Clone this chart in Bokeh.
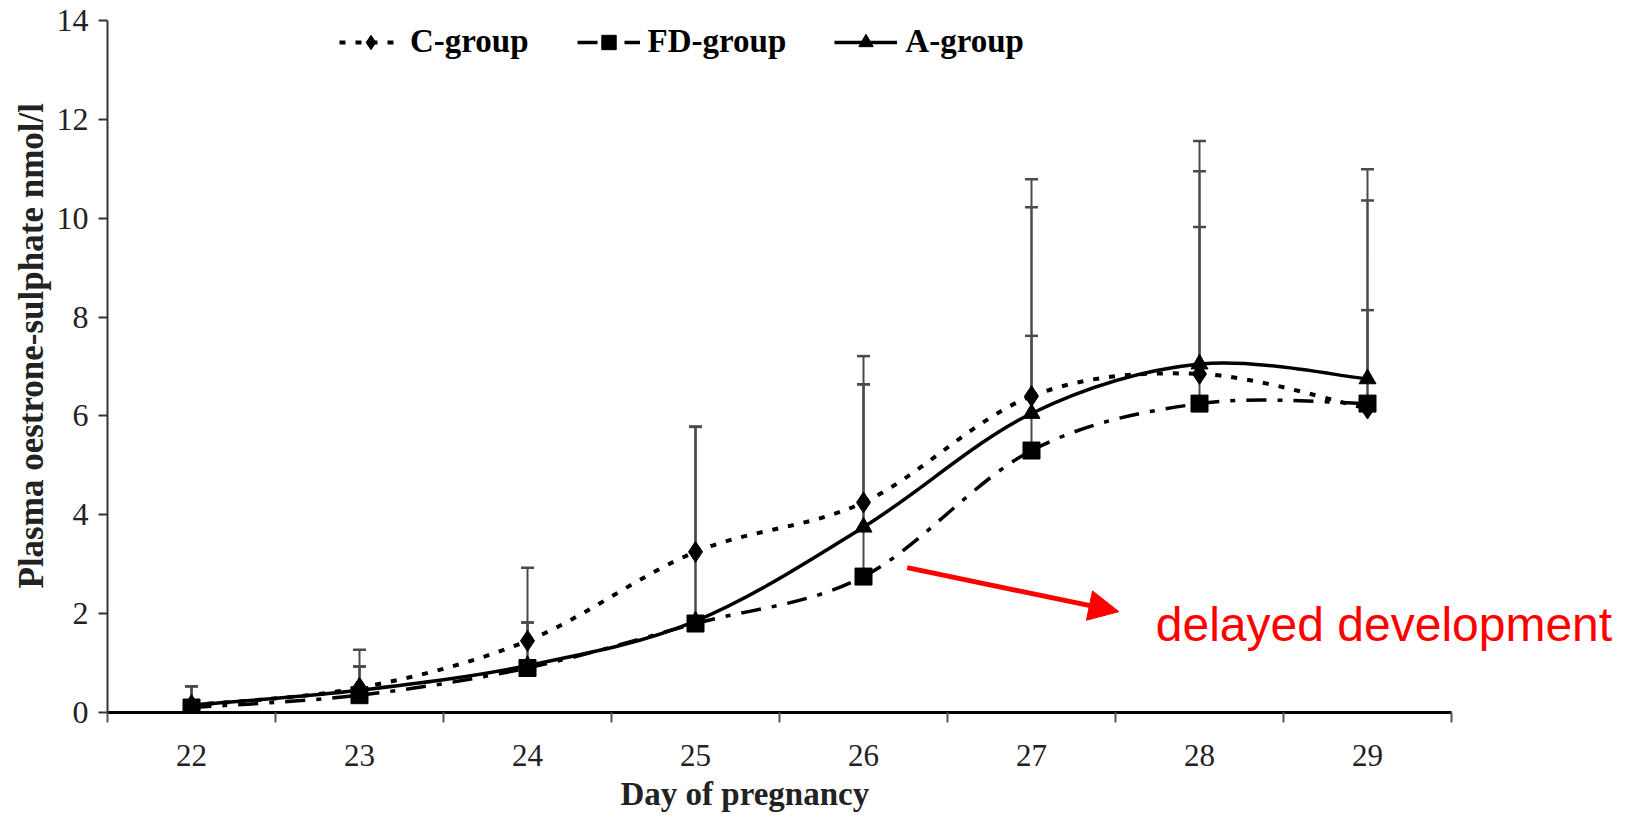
from bokeh.plotting import figure
from bokeh.models import (ColumnDataSource, FixedTicker, Whisker, TeeHead, Legend, LegendItem,
                          Arrow, NormalHead, Label, Range1d, Title)
from bokeh.embed import file_html
from bokeh.resources import INLINE

# ---- data ----
days = [22, 23, 24, 25, 26, 27, 28, 29]
c_group = [0.15, 0.50, 1.45, 3.25, 4.25, 6.40, 6.85, 6.15]
fd_group = [0.10, 0.35, 0.90, 1.80, 2.75, 5.30, 6.25, 6.25]
a_group = [0.15, 0.45, 0.95, 1.85, 3.75, 6.05, 7.05, 6.75]
# upper end of the error bars (mean + SD)
c_upper = [0.53, 1.27, 2.93, 5.78, 7.21, 10.79, 11.56, 10.99]
fd_upper = [0.53, 0.93, 1.82, 5.78, 6.64, 7.62, 9.82, 8.14]
a_upper = [0.53, 0.93, 1.82, 5.78, 6.64, 10.22, 10.95, 10.36]
y_ticks = [0, 2, 4, 6, 8, 10, 12, 14]

SERIF = "Liberation Serif"

# x range extends one day past the axis so the annotation text has room
p = figure(width=1627, height=817, output_backend="svg", toolbar_location=None,
           x_range=Range1d(21.5, 30.5), y_range=Range1d(0, 14),
           min_border_left=107, min_border_right=8, min_border_top=20, min_border_bottom=104)
p.outline_line_color = None
p.grid.grid_line_color = None
p.background_fill_color = "white"
p.border_fill_color = "white"


def bezier_source(xs, ys):
    n = len(xs)
    d = dict(x0=[], y0=[], x1=[], y1=[], cx0=[], cy0=[], cx1=[], cy1=[])
    for i in range(n - 1):
        i0 = max(i - 1, 0)
        i3 = min(i + 2, n - 1)
        d["x0"].append(xs[i]); d["y0"].append(ys[i])
        d["x1"].append(xs[i + 1]); d["y1"].append(ys[i + 1])
        d["cx0"].append(xs[i] + (xs[i + 1] - xs[i0]) / 6)
        d["cy0"].append(ys[i] + (ys[i + 1] - ys[i0]) / 6)
        d["cx1"].append(xs[i + 1] - (xs[i3] - xs[i]) / 6)
        d["cy1"].append(ys[i + 1] - (ys[i3] - ys[i]) / 6)
    return ColumnDataSource(d)


series = [
    ("C-group", c_group, c_upper, "6 10", 4, "diamond", 21),
    ("FD-group", fd_group, fd_upper, "20 11 5 11", 3.5, "square", 17),
    ("A-group", a_group, a_upper, "solid", 3.5, "triangle", 17),
]

items = []
for name, vals, upper, dash, lw, marker, size in series:
    wsrc = ColumnDataSource(dict(x=days, lower=vals, upper=upper))
    w = Whisker(source=wsrc, base="x", lower="lower", upper="upper",
                line_color="#4a4a4a", line_width=2,
                upper_head=TeeHead(size=13, line_color="#4a4a4a", line_width=2.5),
                lower_head=None, level="underlay")
    p.add_layout(w)
    lr = p.bezier(x0="x0", y0="y0", x1="x1", y1="y1", cx0="cx0", cy0="cy0", cx1="cx1", cy1="cy1",
                  source=bezier_source(days, vals), line_color="black", line_width=lw, line_dash=dash)
    sr = p.scatter(days, vals, marker=marker, size=size, fill_color="black", line_color="black")
    items.append(LegendItem(label=name, renderers=[lr, sr]))

legend = Legend(items=items, orientation="horizontal", location=(232, 652),
                border_line_color=None, background_fill_alpha=0,
                label_text_font=SERIF, label_text_font_style="bold", label_text_font_size="33px",
                label_text_color="black", glyph_width=63, glyph_height=36, label_standoff=8,
                spacing=48, padding=0, margin=0, label_height=36)
p.add_layout(legend)

# axes
xa = p.xaxis[0]
xa.bounds = (21.42, 29.5)
xa.ticker = FixedTicker(ticks=days, minor_ticks=[d - 0.5 for d in days] + [days[-1] + 0.5])
xa.major_tick_line_color = None
xa.major_tick_out = 0
xa.major_tick_in = 0
xa.minor_tick_line_color = "#555555"
xa.minor_tick_line_width = 2
xa.minor_tick_out = 10
xa.minor_tick_in = 0
xa.axis_line_color = "black"
xa.axis_line_width = 3
xa.major_label_standoff = 22
xa.major_label_text_font = SERIF
xa.major_label_text_font_size = "31px"
xa.major_label_text_color = "#222222"

# x-axis title, centred under the day axis (not the wider frame)
p.add_layout(Title(text="Day of pregnancy", align="left", offset=513, standoff=11,
                   text_font=SERIF, text_font_style="bold", text_font_size="33px",
                   text_color="#222222"), "below")

ya = p.yaxis[0]
ya.ticker = FixedTicker(ticks=y_ticks)
ya.minor_tick_line_color = None
ya.major_tick_out = 9
ya.major_tick_in = 0
ya.major_tick_line_width = 2
ya.major_tick_line_color = "#333333"
ya.axis_line_color = "#333333"
ya.axis_line_width = 2
ya.major_label_standoff = 10
ya.major_label_text_font = SERIF
ya.major_label_text_font_size = "32px"
ya.major_label_text_color = "#222222"

# y-axis title, placed above the frame centre as in the original
p.add_layout(Title(text="Plasma oestrone-sulphate nmol/l", align="left", offset=124, standoff=6,
                   text_font=SERIF, text_font_style="bold", text_font_size="35px",
                   text_color="#222222"), "left")

# red annotation
p.add_layout(Arrow(end=NormalHead(size=30, fill_color="red", line_color="red"),
                   x_start=26.26, y_start=2.93, x_end=27.52, y_end=2.04,
                   line_color="red", line_width=5))
p.add_layout(Label(x=27.74, y=1.78, text="delayed development", text_color="red",
                   text_font="Liberation Sans", text_font_size="48px", text_baseline="alphabetic"))

open("out.html", "w").write(file_html(p, INLINE))
